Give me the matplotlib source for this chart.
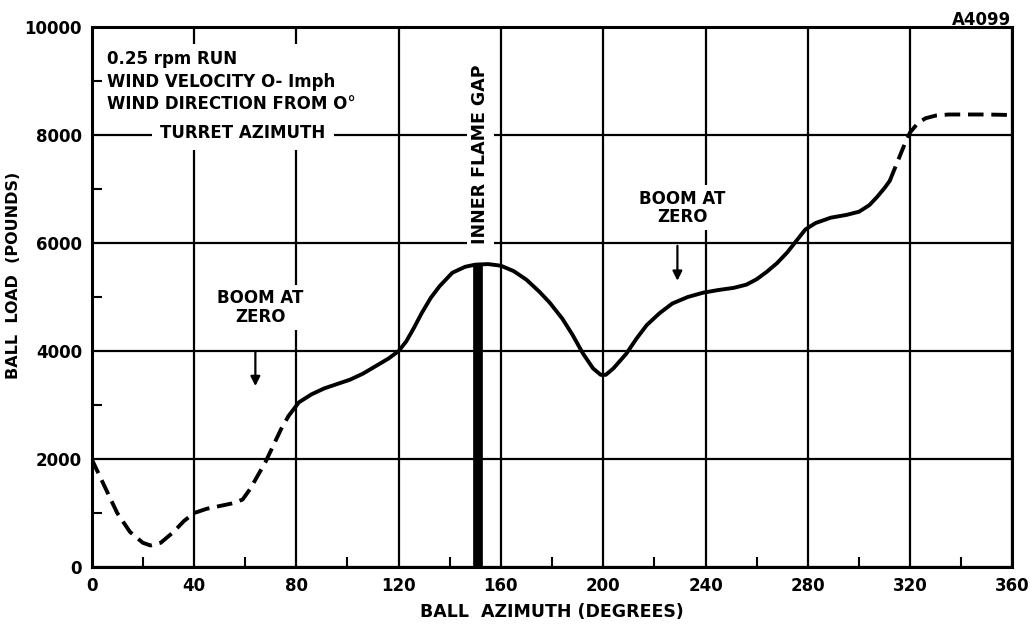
import numpy as np
import matplotlib
matplotlib.use("Agg")
import matplotlib.pyplot as plt
from matplotlib.ticker import MultipleLocator

# values (degrees, pounds)
az_dash1 = [0, 5, 10, 15, 20, 23, 27, 32, 36, 40, 45, 50, 55, 59, 62, 65, 68, 71, 74, 77]
load_dash1 = [2000, 1500, 1000, 650, 450, 400, 450, 650, 850, 1000, 1080, 1130, 1180,
              1250, 1450, 1700, 1950, 2250, 2550, 2800]

az_solid = [77, 81, 86, 91, 96, 101, 106, 111, 116, 120, 123, 126, 129, 132.5, 136, 141,
            146, 150, 155, 160, 165, 170, 175, 179, 184, 188, 192, 196, 199, 201, 204,
            209, 213, 217, 222, 227, 233, 239, 245, 251, 256, 260, 264, 268, 272, 276,
            279, 283, 289, 295, 300, 304, 307, 310, 312]
load_solid = [2800, 3050, 3200, 3310, 3390, 3470, 3580, 3720, 3860, 4000, 4180, 4430, 4700,
              4980, 5200, 5450, 5560, 5600, 5610, 5580, 5480, 5320, 5100, 4900, 4600, 4300,
              3960, 3680, 3560, 3560, 3680, 3950, 4230, 4480, 4700, 4880, 5000, 5080, 5130,
              5170, 5230, 5330, 5470, 5630, 5830, 6070, 6250, 6370, 6470, 6520, 6580, 6700,
              6850, 7020, 7150]

az_dash2 = [312, 315, 318, 320, 323, 326, 330, 335, 340, 350, 360]
load_dash2 = [7150, 7500, 7850, 8050, 8220, 8310, 8360, 8380, 8380, 8380, 8370]

gap_az = 151
gap_load = 5600
boom_az = [64, 229]
boom_top = [4050, 6000]
boom_tip = [3300, 5250]

fw = 'bold'
ff = 'DejaVu Sans'

fig = plt.figure(figsize=(10.30, 6.28), dpi=100)
ax = fig.add_axes([0.089, 0.097, 0.894, 0.860])

ax.set_xlim(0, 360)
ax.set_ylim(0, 10000)
ax.xaxis.set_major_locator(MultipleLocator(40))
ax.xaxis.set_minor_locator(MultipleLocator(20))
ax.yaxis.set_major_locator(MultipleLocator(2000))
ax.yaxis.set_minor_locator(MultipleLocator(1000))
ax.grid(True, which='major', color='black', linewidth=1.6, zorder=1)
ax.tick_params(which='major', length=0, pad=7, labelsize=12)
ax.tick_params(which='minor', direction='in', length=7, width=1.5, color='black')
for lab in ax.get_xticklabels() + ax.get_yticklabels():
    lab.set_fontweight(fw)
    lab.set_family(ff)
for s in ax.spines.values():
    s.set_linewidth(2.2)

ax.plot(az_dash1, load_dash1, color='black', lw=2.8, ls=(0, (4, 2)), zorder=4)
ax.plot(az_solid, load_solid, color='black', lw=2.8, zorder=4, solid_capstyle='round')
ax.plot(az_dash2, load_dash2, color='black', lw=2.8, ls=(0, (4, 2)), zorder=4)

# inner flame gap bar
ax.plot([gap_az, gap_az], [0, gap_load], color='black', lw=7, solid_capstyle='butt', zorder=3)
ax.text(gap_az + 1, 7650, 'INNER FLAME GAP', rotation=90, ha='center', va='center',
        fontsize=12.5, fontweight=fw, family=ff, zorder=5,
        bbox=dict(facecolor='white', edgecolor='none', pad=3))

# boom arrows
for bx, bt, bb, dy in zip(boom_az, boom_top, boom_tip, [750, 650]):
    ax.annotate('', xy=(bx, bb), xytext=(bx, bt), zorder=5,
                arrowprops=dict(arrowstyle='-|>', color='black', lw=1.6,
                                mutation_scale=14))
    ax.text(bx + 2, bt + dy, 'BOOM AT\nZERO', ha='center', va='center', fontsize=12,
            fontweight=fw, family=ff, linespacing=1.05, zorder=5,
            bbox=dict(facecolor='white', edgecolor='none', pad=3))

# run conditions
ax.text(6, 8990, '0.25 rpm RUN\nWIND VELOCITY O- Imph\nWIND DIRECTION FROM O\u00b0',
        ha='left', va='center', fontsize=12, fontweight=fw, family=ff,
        linespacing=1.35, zorder=5, bbox=dict(facecolor='white', edgecolor='none', pad=4))
ax.text(59, 8040, 'TURRET AZIMUTH', ha='center', va='center', fontsize=12,
        fontweight=fw, family=ff, zorder=5,
        bbox=dict(facecolor='white', edgecolor='none', pad=6))

ax.set_xlabel('BALL  AZIMUTH (DEGREES)', fontsize=12.5, fontweight=fw, family=ff, labelpad=6)
ax.set_ylabel('BALL  LOAD  (POUNDS)', fontsize=11.5, fontweight=fw, family=ff)
ax.yaxis.set_label_coords(-0.077, 0.54)

fig.text(0.982, 0.968, 'A4099', ha='right', va='center', fontsize=12, fontweight=fw, family=ff)

fig.savefig('out.png', dpi=100)
